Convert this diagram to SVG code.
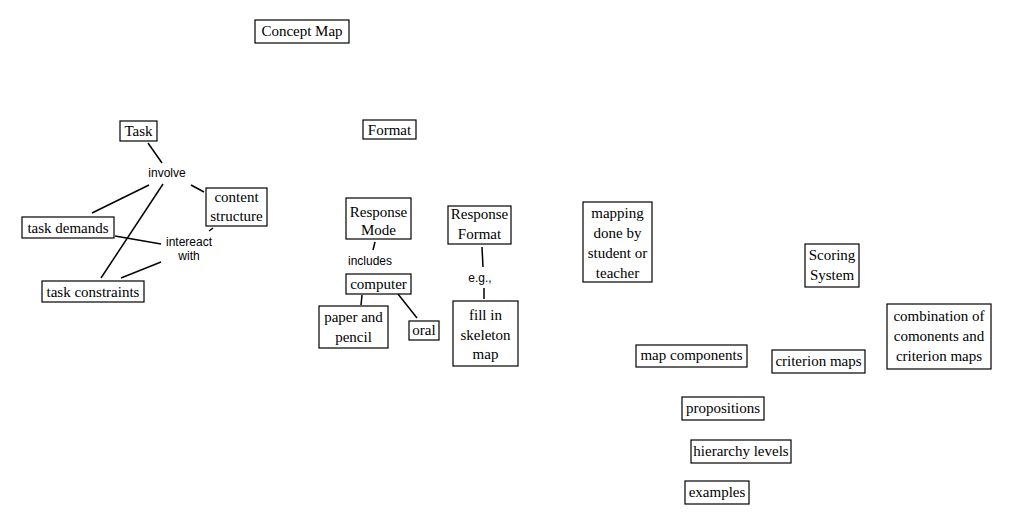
<svg xmlns="http://www.w3.org/2000/svg" width="1014" height="526" viewBox="0 0 1014 526">
<style>
.n rect{fill:#fff;stroke:#000;stroke-width:1.2}
.n text{font-family:"Liberation Serif",serif;font-size:15px;fill:#000;text-anchor:middle}
.lb{font-family:"Liberation Sans",Arial,sans-serif;font-size:12px;fill:#000;text-anchor:middle}
#connectors line{stroke:#000;stroke-width:1.5}
</style>
<rect width="1014" height="526" fill="#fff"/>
<g id="connectors">
<line x1="148" y1="143" x2="162" y2="163"/>
<line x1="191" y1="185" x2="204" y2="192"/>
<line x1="149" y1="185" x2="92" y2="213"/>
<line x1="163" y1="184" x2="101" y2="278"/>
<line x1="115" y1="236" x2="161" y2="244"/>
<line x1="161" y1="262" x2="121" y2="278"/>
<line x1="213" y1="228" x2="209" y2="231"/>
<line x1="375" y1="242" x2="373" y2="250"/>
<line x1="362" y1="295" x2="361" y2="305"/>
<line x1="398" y1="294" x2="417" y2="318"/>
<line x1="482" y1="247" x2="483" y2="267"/>
<line x1="484" y1="288" x2="484" y2="299"/>
</g>
<g id="labels">
<text class="lb" x="167" y="177">involve</text>
<text class="lb" x="189" y="246">intereact</text>
<text class="lb" x="189" y="260">with</text>
<text class="lb" x="370" y="265">includes</text>
<text class="lb" x="480" y="282">e.g.,</text>
</g>
<g id="concept-map" class="n"><rect x="255" y="20" width="94" height="23"/><text x="302" y="36">Concept Map</text></g>
<g id="task" class="n"><rect x="120" y="121" width="37" height="20"/><text x="138.5" y="136">Task</text></g>
<g id="format" class="n"><rect x="363" y="120" width="53" height="19"/><text x="389.5" y="135">Format</text></g>
<g id="content-structure" class="n"><rect x="206" y="188" width="61" height="38"/><text x="236.5" y="202">content</text><text x="236.5" y="221">structure</text></g>
<g id="task-demands" class="n"><rect x="22" y="217" width="92" height="21"/><text x="68" y="233">task demands</text></g>
<g id="task-constraints" class="n"><rect x="42" y="281" width="102" height="21"/><text x="93" y="297">task constraints</text></g>
<g id="response-mode" class="n"><rect x="346" y="198" width="65" height="41"/><text x="378.5" y="217">Response</text><text x="378.5" y="235">Mode</text></g>
<g id="computer" class="n"><rect x="346" y="274" width="65" height="20"/><text x="378.5" y="289">computer</text></g>
<g id="paper-pencil" class="n"><rect x="319" y="306" width="69" height="42"/><text x="353.5" y="322">paper and</text><text x="353.5" y="342">pencil</text></g>
<g id="oral" class="n"><rect x="409" y="321" width="30" height="19"/><text x="424" y="335">oral</text></g>
<g id="response-format" class="n"><rect x="448" y="206" width="63" height="38"/><text x="479.5" y="219">Response</text><text x="479.5" y="239">Format</text></g>
<g id="fill-in" class="n"><rect x="453" y="301" width="65" height="65"/><text x="485.5" y="320">fill in</text><text x="485.5" y="340">skeleton</text><text x="485.5" y="359">map</text></g>
<g id="mapping" class="n"><rect x="583" y="202" width="69" height="80"/><text x="617.5" y="218">mapping</text><text x="617.5" y="238">done by</text><text x="617.5" y="258">student or</text><text x="617.5" y="278">teacher</text></g>
<g id="scoring" class="n"><rect x="805" y="244" width="54" height="43"/><text x="832" y="260">Scoring</text><text x="832" y="280">System</text></g>
<g id="combination" class="n"><rect x="887" y="304" width="104" height="65"/><text x="939" y="321">combination of</text><text x="939" y="341">comonents and</text><text x="939" y="361">criterion maps</text></g>
<g id="map-components" class="n"><rect x="636" y="345" width="111" height="22"/><text x="691.5" y="360">map components</text></g>
<g id="criterion-maps" class="n"><rect x="772" y="350" width="93" height="23"/><text x="818.5" y="366">criterion maps</text></g>
<g id="propositions" class="n"><rect x="682" y="397" width="82" height="23"/><text x="723" y="413">propositions</text></g>
<g id="hierarchy" class="n"><rect x="691" y="440" width="100" height="23"/><text x="741" y="456">hierarchy levels</text></g>
<g id="examples" class="n"><rect x="685" y="481" width="64" height="23"/><text x="717" y="497">examples</text></g>
</svg>
